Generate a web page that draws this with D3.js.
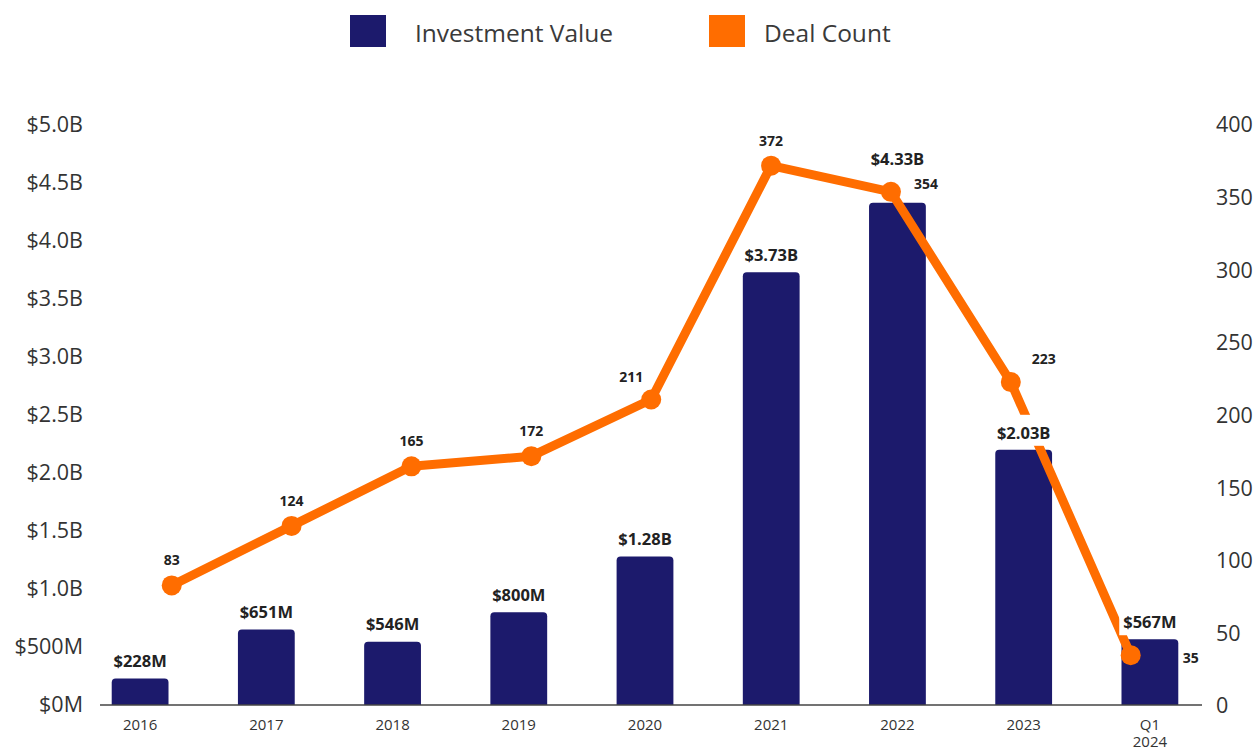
<!DOCTYPE html>
<html>
<head>
<meta charset="utf-8">
<script src="https://cdn.jsdelivr.net/npm/d3@7"></script>
<style>
  html, body { margin: 0; padding: 0; background: #fff; }
  svg { display: block; font-family: "Open Sans", "Noto Sans", sans-serif; }
</style>
</head>
<body>
<svg id="chart" width="1259" height="749"></svg>
<script>
// ---------- data ----------
const categories = ["2016", "2017", "2018", "2019", "2020", "2021", "2022", "2023", "Q1 2024"];
const investmentValue = [228e6, 651e6, 546e6, 800e6, 1.28e9, 3.73e9, 4.33e9, 2.2e9, 567e6];
const investmentLabels = ["$228M", "$651M", "$546M", "$800M", "$1.28B", "$3.73B", "$4.33B", "$2.03B", "$567M"];
const dealCount = [83, 124, 165, 172, 211, 372, 354, 223, 35];
const leftTicks = [0, 5e8, 1e9, 1.5e9, 2e9, 2.5e9, 3e9, 3.5e9, 4e9, 4.5e9, 5e9];
const leftTickLabels = ["$0M", "$500M", "$1.0B", "$1.5B", "$2.0B", "$2.5B", "$3.0B", "$3.5B", "$4.0B", "$4.5B", "$5.0B"];
const rightTicks = [0, 50, 100, 150, 200, 250, 300, 350, 400];
const seriesNames = ["Investment Value", "Deal Count"];

// ---------- styles ----------
const NAVY = "#1c1a6c";
const ORANGE = "#ff6d00";
const TEXT = "#333333";

const svg = d3.select("#chart");

const x = d3.scaleBand().domain(categories).range([77, 1213]).paddingInner(0.55).paddingOuter(0.275);
const xLine = d3.scalePoint().domain(categories).range([171.7, 1130.7]);
const yL = d3.scaleLinear().domain([0, 5e9]).range([705, 125]);
const yR = d3.scaleLinear().domain([0, 400]).range([706, 125]);

// ---------- legend ----------
const legend = svg.append("g");
const legendItems = [
  { name: seriesNames[0], color: NAVY, x: 350, tx: 415 },
  { name: seriesNames[1], color: ORANGE, x: 709, tx: 764 }
];
legendItems.forEach(it => {
  legend.append("rect").attr("x", it.x).attr("y", 15).attr("width", 36).attr("height", 32).attr("fill", it.color);
  legend.append("text").attr("x", it.tx).attr("y", 33).attr("dy", "0.35em")
    .attr("font-size", 24.5).attr("font-weight", 400).attr("fill", "#3a3a3a").text(it.name);
});

// ---------- axes ----------
const axL = svg.append("g").attr("transform", "translate(83,0)")
  .call(d3.axisLeft(yL).tickValues(leftTicks).tickFormat((d, i) => leftTickLabels[i]).tickSize(0).tickPadding(0));
axL.select(".domain").remove();
axL.selectAll("text").attr("font-size", 21.5).attr("fill", TEXT).attr("font-family", "Open Sans");

const axR = svg.append("g").attr("transform", "translate(1216,0)")
  .call(d3.axisRight(yR).tickValues(rightTicks).tickSize(0).tickPadding(0));
axR.select(".domain").remove();
axR.selectAll("text").attr("font-size", 21.5).attr("fill", TEXT).attr("font-family", "Open Sans");

// ---------- bars ----------
const r = 4;
function barPath(d, i) {
  const x0 = x(categories[i]), w = x.bandwidth();
  const y0 = yL(0), y1 = yL(d);
  return `M${x0},${y0} L${x0},${y1 + r} Q${x0},${y1} ${x0 + r},${y1} L${x0 + w - r},${y1} Q${x0 + w},${y1} ${x0 + w},${y1 + r} L${x0 + w},${y0} Z`;
}
svg.append("g").selectAll("path").data(investmentValue).join("path")
  .attr("d", barPath).attr("fill", NAVY);

// baseline
svg.append("line").attr("x1", 100).attr("x2", 1202).attr("y1", yL(0)).attr("y2", yL(0))
  .attr("stroke", "#444").attr("stroke-width", 1.5);

// x axis labels
const axB = svg.append("g").attr("transform", `translate(0,${yL(0)})`)
  .call(d3.axisBottom(x).tickSize(0).tickPadding(0));
axB.select(".domain").remove();
axB.selectAll("text").attr("font-size", 15).attr("fill", TEXT).attr("font-family", "Open Sans")
  .attr("y", 20).attr("dy", "0.35em")
  .each(function(d) {
    const parts = d.split(" ");
    if (parts.length > 1) {
      const t = d3.select(this).text(null).attr("y", null).attr("dy", null);
      parts.forEach((p, k) => t.append("tspan").attr("x", 0).attr("y", 20 + k * 17).attr("dy", "0.35em").text(p));
    }
  });

// ---------- line ----------
const line = d3.line().x((d, i) => xLine(categories[i])).y(d => yR(d));
svg.append("path").datum(dealCount).attr("d", line)
  .attr("fill", "none").attr("stroke", ORANGE).attr("stroke-width", 9).attr("stroke-linejoin", "round");
svg.append("g").selectAll("circle").data(dealCount).join("circle")
  .attr("cx", (d, i) => xLine(categories[i])).attr("cy", d => yR(d)).attr("r", 10).attr("fill", ORANGE);

// point labels
const placement = { "2020": [-20, -22], "2022": [35, -8], "2023": [33, -23], "Q1 2024": [60, 3] };
svg.append("g").selectAll("text").data(dealCount).join("text")
  .attr("x", (d, i) => xLine(categories[i]) + (placement[categories[i]] || [0, -25])[0])
  .attr("y", (d, i) => yR(d) + (placement[categories[i]] || [0, -25])[1])
  .attr("dy", "0.35em").attr("text-anchor", "middle")
  .attr("font-size", 14).attr("font-weight", 700).attr("fill", "#222").text(d => d);

// bar labels (white backing)
const bl = svg.append("g");
investmentValue.forEach((v, i) => {
  const top = yL(v);
  const py = yR(dealCount[i]);
  let cy = top - 17;
  if (top - py > 0 && top - py < 30) cy = py - 33;
  const cx = x(categories[i]) + x.bandwidth() / 2;
  const g = bl.append("g");
  const bg = g.append("rect").attr("fill", "#fff");
  const t = g.append("text").attr("x", cx).attr("y", cy).attr("dy", "0.35em").attr("text-anchor", "middle")
    .attr("font-size", 16.5).attr("font-weight", 700).attr("fill", "#222").text(investmentLabels[i]);
  const bb = t.node().getBBox();
  bg.attr("x", bb.x - 4).attr("y", cy - 18).attr("width", bb.width + 8).attr("height", Math.max(30, top - 4 - (cy - 18)));
  if (top - 4 - (cy - 18) > 40) bg.attr("height", 34);
});
</script>
</body>
</html>
